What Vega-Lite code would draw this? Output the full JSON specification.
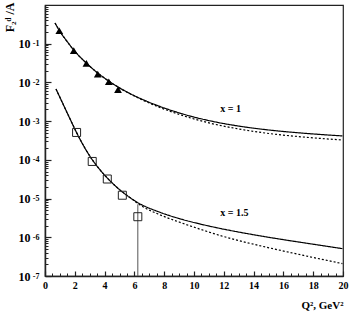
{
  "$schema": "https://vega.github.io/schema/vega-lite/v6.json",
  "width": 298,
  "height": 271,
  "autosize": {"type": "none"},
  "padding": {"left": 45, "top": 5, "right": 8, "bottom": 42},
  "background": "white",
  "config": {
    "view": {"stroke": "#222", "strokeWidth": 1.2},
    "axis": {
      "grid": false,
      "labelFont": "Liberation Serif",
      "labelFontWeight": "bold",
      "labelColor": "black",
      "titleFont": "Liberation Serif",
      "titleFontWeight": "bold",
      "titleColor": "black",
      "tickColor": "#222",
      "domainColor": "#222",
      "domainWidth": 1.5
    }
  },
  "datasets": {
    "curves": [
      {"q2": 0.672, "f": 0.3428, "curve": "x1", "kind": "full"},
      {"q2": 0.961, "f": 0.2193, "curve": "x1", "kind": "full"},
      {"q2": 1.5, "f": 0.1122, "curve": "x1", "kind": "full"},
      {"q2": 1.929, "f": 0.0685, "curve": "x1", "kind": "full"},
      {"q2": 2.776, "f": 0.0316, "curve": "x1", "kind": "full"},
      {"q2": 3.542, "f": 0.01746, "curve": "x1", "kind": "full"},
      {"q2": 4.281, "f": 0.01084, "curve": "x1", "kind": "full"},
      {"q2": 4.906, "f": 0.00759, "curve": "x1", "kind": "full"},
      {"q2": 5.7, "f": 0.005164, "curve": "x1", "kind": "full"},
      {"q2": 6.586, "f": 0.003581, "curve": "x1", "kind": "full"},
      {"q2": 7.7, "f": 0.002404, "curve": "x1", "kind": "full"},
      {"q2": 8.851, "f": 0.001702, "curve": "x1", "kind": "full"},
      {"q2": 11.089, "f": 0.001016, "curve": "x1", "kind": "full"},
      {"q2": 13.0, "f": 0.000746, "curve": "x1", "kind": "full"},
      {"q2": 15.12, "f": 0.000585, "curve": "x1", "kind": "full"},
      {"q2": 17.5, "f": 0.000483, "curve": "x1", "kind": "full"},
      {"q2": 19.96, "f": 0.000415, "curve": "x1", "kind": "full"},

      {"q2": 0.672, "f": 0.3428, "curve": "x1", "kind": "dotted"},
      {"q2": 0.961, "f": 0.2193, "curve": "x1", "kind": "dotted"},
      {"q2": 1.5, "f": 0.1122, "curve": "x1", "kind": "dotted"},
      {"q2": 1.929, "f": 0.0685, "curve": "x1", "kind": "dotted"},
      {"q2": 2.776, "f": 0.0316, "curve": "x1", "kind": "dotted"},
      {"q2": 3.542, "f": 0.01746, "curve": "x1", "kind": "dotted"},
      {"q2": 4.281, "f": 0.01084, "curve": "x1", "kind": "dotted"},
      {"q2": 4.906, "f": 0.00759, "curve": "x1", "kind": "dotted"},
      {"q2": 5.7, "f": 0.005105, "curve": "x1", "kind": "dotted"},
      {"q2": 6.586, "f": 0.003459, "curve": "x1", "kind": "dotted"},
      {"q2": 7.7, "f": 0.00227, "curve": "x1", "kind": "dotted"},
      {"q2": 8.851, "f": 0.001563, "curve": "x1", "kind": "dotted"},
      {"q2": 11.089, "f": 0.000885, "curve": "x1", "kind": "dotted"},
      {"q2": 13.0, "f": 0.000628, "curve": "x1", "kind": "dotted"},
      {"q2": 15.12, "f": 0.000475, "curve": "x1", "kind": "dotted"},
      {"q2": 17.5, "f": 0.000384, "curve": "x1", "kind": "dotted"},
      {"q2": 19.96, "f": 0.000326, "curve": "x1", "kind": "dotted"},

      {"q2": 0.74, "f": 0.00673, "curve": "x15", "kind": "full"},
      {"q2": 1.0, "f": 0.00412, "curve": "x15", "kind": "full"},
      {"q2": 1.34, "f": 0.002168, "curve": "x15", "kind": "full"},
      {"q2": 1.7, "f": 0.001099, "curve": "x15", "kind": "full"},
      {"q2": 2.12, "f": 0.000505, "curve": "x15", "kind": "full"},
      {"q2": 2.6, "f": 0.0002275, "curve": "x15", "kind": "full"},
      {"q2": 3.16, "f": 0.0001023, "curve": "x15", "kind": "full"},
      {"q2": 3.6, "f": 0.0000611, "curve": "x15", "kind": "full"},
      {"q2": 4.17, "f": 0.0000343, "curve": "x15", "kind": "full"},
      {"q2": 4.7, "f": 0.00002158, "curve": "x15", "kind": "full"},
      {"q2": 5.19, "f": 0.00001486, "curve": "x15", "kind": "full"},
      {"q2": 6.16, "f": 0.00000813, "curve": "x15", "kind": "full"},
      {"q2": 7.73, "f": 0.0000044, "curve": "x15", "kind": "full"},
      {"q2": 9.0, "f": 0.00000305, "curve": "x15", "kind": "full"},
      {"q2": 10.42, "f": 0.000002198, "curve": "x15", "kind": "full"},
      {"q2": 11.76, "f": 0.00000169, "curve": "x15", "kind": "full"},
      {"q2": 13.4, "f": 0.000001279, "curve": "x15", "kind": "full"},
      {"q2": 15.12, "f": 0.000000984, "curve": "x15", "kind": "full"},
      {"q2": 17.5, "f": 0.000000708, "curve": "x15", "kind": "full"},
      {"q2": 19.96, "f": 0.000000509, "curve": "x15", "kind": "full"},

      {"q2": 0.74, "f": 0.00673, "curve": "x15", "kind": "dotted"},
      {"q2": 1.0, "f": 0.00412, "curve": "x15", "kind": "dotted"},
      {"q2": 1.34, "f": 0.002168, "curve": "x15", "kind": "dotted"},
      {"q2": 1.7, "f": 0.001099, "curve": "x15", "kind": "dotted"},
      {"q2": 2.12, "f": 0.000505, "curve": "x15", "kind": "dotted"},
      {"q2": 2.6, "f": 0.0002275, "curve": "x15", "kind": "dotted"},
      {"q2": 3.16, "f": 0.0001023, "curve": "x15", "kind": "dotted"},
      {"q2": 3.6, "f": 0.0000611, "curve": "x15", "kind": "dotted"},
      {"q2": 4.17, "f": 0.0000343, "curve": "x15", "kind": "dotted"},
      {"q2": 4.7, "f": 0.00002158, "curve": "x15", "kind": "dotted"},
      {"q2": 5.19, "f": 0.00001486, "curve": "x15", "kind": "dotted"},
      {"q2": 5.7, "f": 0.0000107, "curve": "x15", "kind": "dotted"},
      {"q2": 6.38, "f": 0.00000684, "curve": "x15", "kind": "dotted"},
      {"q2": 7.73, "f": 0.00000378, "curve": "x15", "kind": "dotted"},
      {"q2": 9.0, "f": 0.00000248, "curve": "x15", "kind": "dotted"},
      {"q2": 10.42, "f": 0.00000161, "curve": "x15", "kind": "dotted"},
      {"q2": 11.76, "f": 0.000001109, "curve": "x15", "kind": "dotted"},
      {"q2": 13.4, "f": 0.000000753, "curve": "x15", "kind": "dotted"},
      {"q2": 15.12, "f": 0.000000526, "curve": "x15", "kind": "dotted"},
      {"q2": 17.5, "f": 0.000000331, "curve": "x15", "kind": "dotted"},
      {"q2": 19.96, "f": 0.000000209, "curve": "x15", "kind": "dotted"}
    ],
    "tri": [
      {"q2": 0.96, "f": 0.216},
      {"q2": 1.93, "f": 0.066},
      {"q2": 2.78, "f": 0.031},
      {"q2": 3.54, "f": 0.0164},
      {"q2": 4.28, "f": 0.0104},
      {"q2": 4.9, "f": 0.0065}
    ],
    "sq": [
      {"q2": 2.12, "f": 0.00051, "lo": 0.00051, "hi": 0.00051},
      {"q2": 3.17, "f": 0.000091, "lo": 0.000091, "hi": 0.000091},
      {"q2": 4.18, "f": 0.000032, "lo": 0.000032, "hi": 0.000032},
      {"q2": 5.19, "f": 0.0000122, "lo": 0.0000122, "hi": 0.0000122},
      {"q2": 6.23, "f": 0.0000034, "lo": 0.0000001, "hi": 0.0000071}
    ],
    "labels": [
      {"q2": 11.76, "f": 0.00201, "text": "x = 1"},
      {"q2": 11.76, "f": 0.00000436, "text": "x = 1.5"}
    ]
  },
  "resolve": {"axis": {"x": "independent", "y": "independent"}},
  "layer": [
    {
      "data": {"name": "sq"},
      "mark": {"type": "rule", "color": "#555", "strokeWidth": 1},
      "encoding": {
        "x": {"field": "q2", "type": "quantitative", "scale": {"domain": [0, 20], "nice": false}, "axis": null},
        "y": {"field": "hi", "type": "quantitative", "scale": {"type": "log", "domain": [1e-7, 1], "nice": false}, "axis": null},
        "y2": {"field": "lo"}
      }
    },
    {
      "data": {"name": "curves"},
      "mark": {"type": "line", "color": "black", "strokeWidth": 1.2, "interpolate": "monotone"},
      "encoding": {
        "x": {
          "field": "q2", "type": "quantitative",
          "scale": {"domain": [0, 20], "nice": false},
          "axis": {
            "orient": "bottom",
            "values": [0, 2, 4, 6, 8, 10, 12, 14, 16, 18, 20],
            "tickSize": -5, "tickWidth": 1.2,
            "labelFontSize": 10, "labelPadding": 9, "labelFlush": false,
            "title": "Q², GeV²", "titleFontSize": 11,
            "titleAnchor": "end", "titleAlign": "right", "titleBaseline": "alphabetic",
            "titleX": 298, "titleY": 32
          }
        },
        "y": {
          "field": "f", "type": "quantitative",
          "scale": {"type": "log", "domain": [1e-7, 1], "nice": false},
          "axis": {
            "orient": "left",
            "values": [0.1, 0.01, 0.001, 0.0001, 0.00001, 0.000001, 0.0000001],
            "labelExpr": "'10'",
            "tickSize": -6, "tickWidth": 1.2,
            "labelFontSize": 12, "labelPadding": 21, "labelDy": 2, "labelFlush": false,
            "title": "F₂ᵈ /A", "titleFontSize": 12,
            "titleAngle": -90, "titleAlign": "right", "titleBaseline": "middle",
            "titleX": -36, "titleY": -3
          }
        },
        "strokeDash": {"field": "kind", "type": "nominal", "scale": {"domain": ["full", "dotted"], "range": [[1, 0], [2, 2]]}, "legend": null},
        "detail": {"field": "curve", "type": "nominal"}
      }
    },
    {
      "data": {"name": "tri"},
      "mark": {"type": "point", "shape": "triangle-up", "filled": true, "color": "black", "size": 60, "opacity": 1},
      "encoding": {
        "x": {
          "field": "q2", "type": "quantitative",
          "scale": {"domain": [0, 20], "nice": false},
          "axis": {
            "orient": "bottom",
            "values": [0.5, 1, 1.5, 2.5, 3, 3.5, 4.5, 5, 5.5, 6.5, 7, 7.5, 8.5, 9, 9.5, 10.5, 11, 11.5, 12.5, 13, 13.5, 14.5, 15, 15.5, 16.5, 17, 17.5, 18.5, 19, 19.5],
            "tickSize": -3, "tickWidth": 1, "labels": false, "domain": false, "title": null
          }
        },
        "y": {
          "field": "f", "type": "quantitative",
          "scale": {"type": "log", "domain": [1e-7, 1], "nice": false},
          "axis": {
            "orient": "left",
            "values": [2e-7, 3e-7, 4e-7, 5e-7, 6e-7, 7e-7, 8e-7, 9e-7,
                       2e-6, 3e-6, 4e-6, 5e-6, 6e-6, 7e-6, 8e-6, 9e-6,
                       2e-5, 3e-5, 4e-5, 5e-5, 6e-5, 7e-5, 8e-5, 9e-5,
                       2e-4, 3e-4, 4e-4, 5e-4, 6e-4, 7e-4, 8e-4, 9e-4,
                       2e-3, 3e-3, 4e-3, 5e-3, 6e-3, 7e-3, 8e-3, 9e-3,
                       2e-2, 3e-2, 4e-2, 5e-2, 6e-2, 7e-2, 8e-2, 9e-2,
                       0.2, 0.3, 0.4, 0.5, 0.6, 0.7, 0.8, 0.9],
            "tickSize": -3, "tickWidth": 1, "labels": false, "domain": false, "title": null
          }
        }
      }
    },
    {
      "data": {"name": "sq"},
      "mark": {"type": "point", "shape": "square", "filled": false, "color": "#222", "size": 64, "strokeWidth": 1, "opacity": 1},
      "encoding": {
        "x": {"field": "q2", "type": "quantitative", "scale": {"domain": [0, 20], "nice": false}, "axis": null},
        "y": {
          "field": "f", "type": "quantitative",
          "scale": {"type": "log", "domain": [1e-7, 1], "nice": false},
          "axis": {
            "orient": "left",
            "values": [0.1, 0.01, 0.001, 0.0001, 0.00001, 0.000001, 0.0000001],
            "labelExpr": "'-' + round(-log(datum.value) / LN10)",
            "ticks": false, "domain": false, "title": null,
            "labelFontSize": 8, "labelPadding": 6, "labelDy": -8, "labelFlush": false
          }
        }
      }
    },
    {
      "data": {"name": "labels"},
      "mark": {"type": "text", "align": "left", "baseline": "middle", "font": "Liberation Serif", "fontWeight": "bold", "fontSize": 10, "color": "black"},
      "encoding": {
        "x": {"field": "q2", "type": "quantitative", "scale": {"domain": [0, 20], "nice": false}, "axis": null},
        "y": {"field": "f", "type": "quantitative", "scale": {"type": "log", "domain": [1e-7, 1], "nice": false}, "axis": null},
        "text": {"field": "text"}
      }
    }
  ]
}
